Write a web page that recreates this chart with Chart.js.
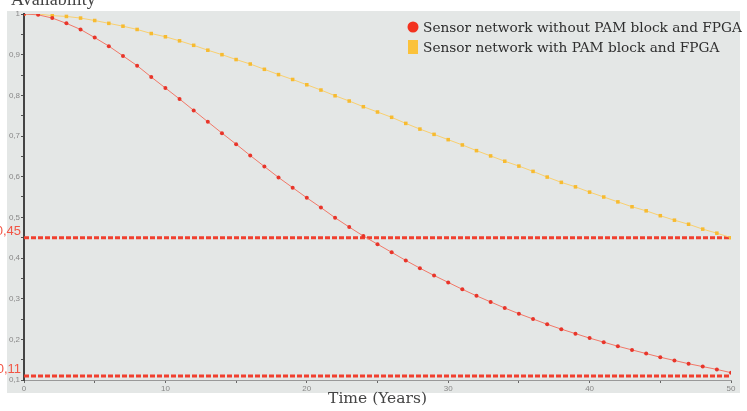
<!DOCTYPE html>
<html>
<head>
<meta charset="utf-8">
<script src="https://cdn.jsdelivr.net/npm/chart.js@4.4.1/dist/chart.umd.min.js"></script>
<style>
  html, body { margin: 0; background: #fff; }
  #wrap { width: 747px; height: 411px; }
</style>
</head>
<body>
<div id="wrap"><canvas id="myChart"></canvas></div>
<script>
// data (availability per year)
let years = [];
for (let i = 0; i <= 50; i++) years.push(i);

let withoutPam = [1.0, 0.998, 0.99, 0.977, 0.962, 0.942, 0.921, 0.897, 0.873, 0.845,
  0.818, 0.791, 0.763, 0.735, 0.707, 0.680, 0.652, 0.625, 0.598, 0.573,
  0.548, 0.524, 0.499, 0.476, 0.454, 0.434, 0.414, 0.394, 0.375, 0.357,
  0.340, 0.323, 0.307, 0.292, 0.277, 0.263, 0.250, 0.237, 0.225, 0.214,
  0.203, 0.193, 0.183, 0.174, 0.165, 0.156, 0.148, 0.140, 0.133, 0.126, 0.118];

let withPam = [1.0, 1.0, 0.996, 0.994, 0.990, 0.984, 0.977, 0.970, 0.962, 0.952,
  0.944, 0.934, 0.923, 0.911, 0.900, 0.888, 0.877, 0.864, 0.851, 0.839,
  0.826, 0.813, 0.799, 0.786, 0.772, 0.759, 0.746, 0.731, 0.717, 0.704,
  0.691, 0.678, 0.664, 0.651, 0.638, 0.626, 0.613, 0.599, 0.586, 0.575,
  0.562, 0.550, 0.538, 0.526, 0.516, 0.504, 0.493, 0.483, 0.471, 0.461, 0.450];

let limits = [0.45, 0.11];
let limitLabels = ["0,45", "0,11"];
let seriesNames = ["Sensor network without PAM block and FPGA", "Sensor network with PAM block and FPGA"];

let toXY = (vals) => vals.map((v, i) => ({ x: years[i], y: v }));
let limitLine = (v) => [{ x: years[0], y: v }, { x: years[years.length - 1], y: v }];

// background, title, limit labels and legend
let paper = {
  id: "paper",
  beforeDraw(chart) {
    let c = chart.ctx, a = chart.chartArea;
    c.save();
    c.fillStyle = "#fff";
    c.fillRect(0, 0, chart.width, chart.height);
    c.fillStyle = "#e4e7e6";
    c.fillRect(a.left - 17, a.top - 3, a.right - a.left + 26, a.bottom - a.top + 16);
    c.restore();
  },
  afterDraw(chart) {
    let c = chart.ctx, a = chart.chartArea, ys = chart.scales.y;
    c.save();
    c.fillStyle = "#444";
    c.font = "18px 'Liberation Serif'";
    c.textBaseline = "alphabetic";
    c.fillText("Availability", 11, 5);

    c.fillStyle = "#f25545";
    c.font = "13px 'Liberation Sans'";
    c.textAlign = "right";
    limits.forEach((v, i) => {
      c.fillText(limitLabels[i], a.left - 3, ys.getPixelForValue(v) - 3);
    });

    // legend
    c.textAlign = "left";
    c.font = "13.7px 'DejaVu Serif'";
    c.fillStyle = "#f3321f";
    c.beginPath();
    c.arc(413, 27, 5.5, 0, Math.PI * 2);
    c.fill();
    c.fillStyle = "#fbc23a";
    c.fillRect(408, 40, 10, 14);
    c.fillStyle = "#2e2e2e";
    c.fillText(seriesNames[0], 423, 32);
    c.fillText(seriesNames[1], 423, 52);
    c.restore();
  }
};

let ctx = document.getElementById("myChart").getContext("2d");

let availChart = new Chart(ctx, {
  type: "line",
  data: {
    datasets: [
      {
        label: seriesNames[0],
        data: toXY(withoutPam),
        borderColor: "#f27868",
        borderWidth: 1,
        pointRadius: 2,
        pointBackgroundColor: "#e8352a",
        pointBorderWidth: 0,
      },
      {
        label: seriesNames[1],
        data: toXY(withPam),
        borderColor: "#f9d070",
        borderWidth: 1,
        pointStyle: "rect",
        pointRadius: 2.5,
        pointBackgroundColor: "#f7bb30",
        pointBorderWidth: 0,
      },
      {
        label: "limit high",
        data: limitLine(limits[0]),
        borderColor: "#f0402f",
        borderWidth: 3,
        borderDash: [5, 2],
        pointRadius: 0,
      },
      {
        label: "limit low",
        data: limitLine(limits[1]),
        borderColor: "#f0402f",
        borderWidth: 3,
        borderDash: [5, 2],
        pointRadius: 0,
      },
    ],
  },
  options: {
    responsive: true,
    maintainAspectRatio: false,
    animation: false,
    layout: { padding: { left: 0, right: 16, top: 14, bottom: 0 } },
    plugins: {
      legend: { display: false },
      tooltip: { enabled: false },
    },
    scales: {
      x: {
        type: "linear",
        min: 0,
        max: 50,
        afterFit: (s) => { s.height = 31; },
        ticks: {
          stepSize: 5,
          autoSkip: false,
          maxRotation: 0,
          padding: 1,
          color: "#888",
          font: { size: 8 },
          callback: (v) => (v % 10 === 0 ? String(v) : ""),
        },
        grid: { drawOnChartArea: false, drawTicks: true, tickLength: 3, color: "#666" },
        border: { color: "#999", width: 1 },
        title: {
          display: true,
          text: "Time (Years)",
          color: "#444",
          font: { family: "'DejaVu Serif'", size: 15.5 },
          padding: { top: 2, bottom: 3 },
        },
      },
      y: {
        min: 0.1,
        max: 1,
        afterFit: (s) => { s.width = 24; },
        ticks: {
          stepSize: 0.05,
          autoSkip: false,
          padding: 1,
          color: "#888",
          font: { size: 8 },
          callback: (v) => {
            let r = Math.round(v * 100);
            if (r % 10 !== 0) return "";
            if (r === 100) return "1";
            return (r / 100).toFixed(1).replace(".", ",");
          },
        },
        grid: { drawOnChartArea: false, drawTicks: true, tickLength: 3, color: "#555" },
        border: { color: "#444", width: 2 },
      },
    },
  },
  plugins: [paper],
});
</script>
</body>
</html>
